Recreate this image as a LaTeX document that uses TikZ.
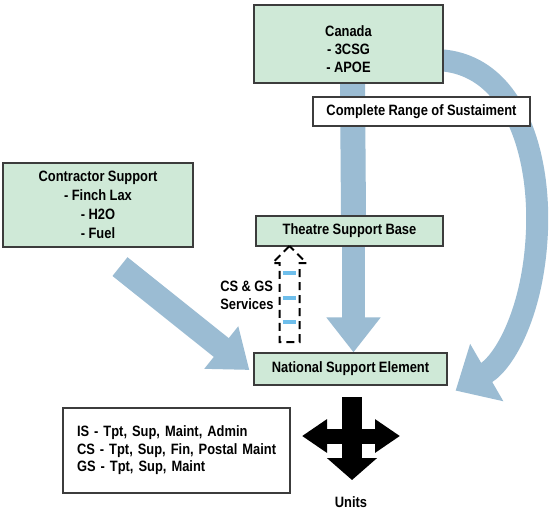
\documentclass[tikz,border=0pt]{standalone}
\usepackage{fontspec}
\setmainfont{Liberation Sans}[FakeStretch=0.86]
\usetikzlibrary{arrows.meta,positioning,calc,shapes.arrows,backgrounds}

\definecolor{boxgreen}{RGB}{207,233,215}
\definecolor{flowblue}{RGB}{155,188,211}
\definecolor{rungblue}{RGB}{110,190,235}
\definecolor{edgegray}{RGB}{60,60,60}

\newcommand\diagfont[1]{\fontsize{15}{#1}\selectfont\bfseries\spaceskip 3.4pt\relax}

\begin{document}
\frenchspacing
\begin{tikzpicture}[x=1pt,y=-1pt,
    every node/.style={font=\diagfont{18}},
    box/.style={draw=edgegray,line width=1.2pt,fill=boxgreen,align=center,inner sep=0pt},
    plainbox/.style={box,fill=white},
    flow/.style={draw=flowblue,line width=24pt},
    blockarrow/.style={draw=black,line width=20pt}]
    \useasboundingbox (0,0) rectangle (549,515);

    % sources and receivers
    \node[box,minimum width=189pt,minimum height=78pt] (canada) at (348.5,44)
        {\rule{0pt}{22pt}Canada\\- 3CSG\\- APOE};
    \node[plainbox,minimum width=217pt,minimum height=29pt] (range) at (421.5,111.5)
        {Complete Range of Sustaiment};
    \node[box,minimum width=190pt,minimum height=84pt,font=\diagfont{19}]
        (contractor) at (98,205) {Contractor Support\\- Finch Lax\\- H2O\\- Fuel};
    \node[box,minimum width=187pt,minimum height=30pt] (tsb) at (349.5,231) {Theatre Support Base};
    \node[box,minimum width=193pt,minimum height=32pt] (nse) at (350.5,369) {National Support Element};
    \node[plainbox,text width=211pt,align=left,inner xsep=8pt,minimum height=85pt,
        font=\diagfont{17.5}] (roles) at (176.5,450.5)
        {\hspace*{6pt}IS - Tpt, Sup, Maint, Admin\\\hspace*{6pt}CS - Tpt, Sup, Fin, Postal Maint\\\hspace*{6pt}GS - Tpt, Sup, Maint};

    % dashed services arrow
    \node[single arrow,draw=black,line width=2pt,dash pattern=on 8pt off 5pt,
        shape border rotate=90,minimum height=96pt,minimum width=32pt,
        single arrow head extend=7pt,single arrow tip angle=90,inner sep=9pt,
        anchor=tail] (services) at (289.5,343) {};
    \foreach \dy in {21,45,70}
        \draw[rungblue,line width=3.5pt] ($(services.tail)+(-7,-\dy)$) -- ++(13,0);
    \node[align=left,anchor=east] (servlabel) at (277,295) {CS \& GS\\Services};

    % units cross
    \coordinate (hub) at (352,436);
    \draw[blockarrow,-{Triangle[length=22pt,width=49pt]}] ($(hub)+(0,-39)$) -- ($(hub)+(0,44)$);
    \draw[blockarrow,line width=15pt,{Triangle[length=25pt,width=32pt]}-{Triangle[length=25pt,width=32pt]}]
        ($(hub)+(-50,0)$) -- ($(hub)+(48,0)$);
    \node (units) at (351,502) {Units};

    \begin{pgfonlayer}{background}
        \fill[white] (0,0) rectangle (549,515);
        \draw[flow,line width=25pt] ($(canada.south)+(4,0)$) -- ($(tsb.north)+(4,0)$);
        \draw[flow,line width=23pt,-{Triangle[length=35pt,width=52pt]}]
            ($(tsb.south)+(4,0)$) -- ($(nse.north)+(3,0)$);
        \draw[flow,-{Triangle[length=36pt,width=52pt]}]
            ($(contractor.south)+(22,19)$) -- ($(nse.west)+(-4,1)$);
        \draw[flow,line width=22pt,-{Triangle[length=36pt,width=64pt]}]
            ($(canada.east)+(-10,16)$) .. controls (512,60) and (540,150) .. (537,230)
            .. controls (534,310) and (505,362) .. ($(nse.south east)+(8,5)$);
    \end{pgfonlayer}
\end{tikzpicture}
\end{document}
